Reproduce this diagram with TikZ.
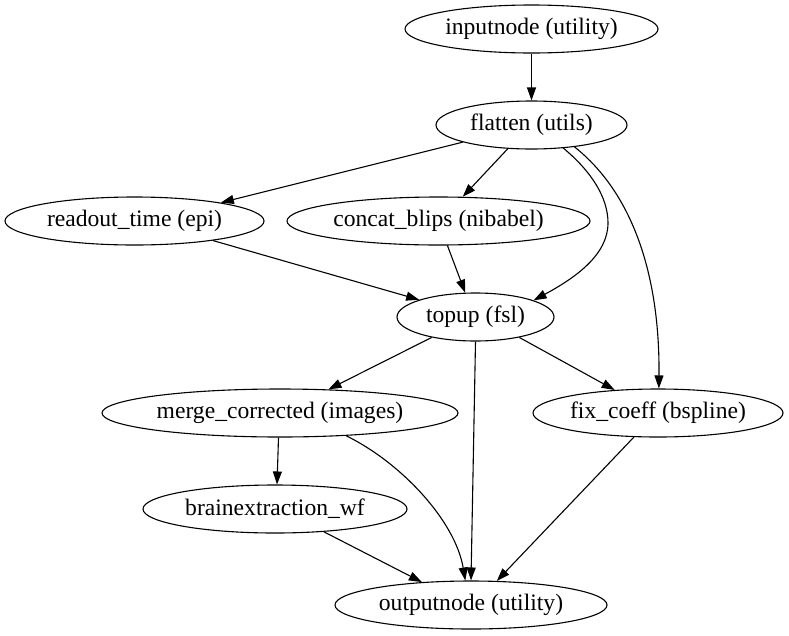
\documentclass[tikz,border=0pt]{standalone}
\usepackage{fontspec}
\setmainfont{Liberation Serif}
\usetikzlibrary{shapes.geometric,arrows.meta}
\tikzset{
  gv/.style={draw, ellipse, line width=1.1pt, inner sep=0pt, minimum height=48pt,
    font=\fontsize{23.6}{27}\selectfont},
  edge/.style={line width=1.1pt, -{Triangle[length=13pt,width=9pt]}}
}
\begin{document}
\begin{tikzpicture}[x=1pt,y=-1pt]
\useasboundingbox (0,0) rectangle (789,635);
\node[gv, minimum width=253pt] (in)  at (531.5,29)  {inputnode (utility)};
\node[gv, minimum width=191pt] (fl)  at (531.5,125) {flatten (utils)};
\node[gv, minimum width=259pt] (ro)  at (134.5,221) {readout\_time (epi)};
\node[gv, minimum width=303pt] (cb)  at (438.5,221) {concat\_blips (nibabel)};
\node[gv, minimum width=157pt] (tp)  at (475.5,317) {topup (fsl)};
\node[gv, minimum width=356pt] (mc)  at (280,413)   {merge\_corrected (images)};
\node[gv, minimum width=250pt] (fc)  at (658,413)   {fix\_coeff (bspline)};
\node[gv, minimum width=264pt] (be)  at (275,509)   {brainextraction\_wf};
\node[gv, minimum width=272pt] (out) at (471,605)   {outputnode (utility)};

\draw[edge] (in.south) -- (fl.north);
\draw[edge] (fl.194) -- (ro.12.8);
\draw[edge] (fl.225.7) -- (cb.45.6);
\draw[edge] (fl.-36) .. controls (592,172) and (608,198) .. (608,223)
  .. controls (608,255) and (575,278) .. (tp.16.7);
\draw[edge] (fl.-27.4) .. controls (635,195) and (660,280) .. (fc.88);
\draw[edge] (ro.-14.7) -- (tp.163.8);
\draw[edge] (cb.-70) -- (tp.113);
\draw[edge] (tp.205) -- (mc.26.6);
\draw[edge] (tp.south) -- (out.north);
\draw[edge] (tp.-25.7) -- (fc.152.5);
\draw[edge] ([xshift=-1.5pt]mc.south) -- ([xshift=2pt]be.north);
\draw[edge] (mc.-19) .. controls (400,462) and (455,520) .. (out.103);
\draw[edge] (be.-25.6) -- (out.155.7);
\draw[edge] (fc.225) -- (out.43.9);
\end{tikzpicture}
\end{document}
